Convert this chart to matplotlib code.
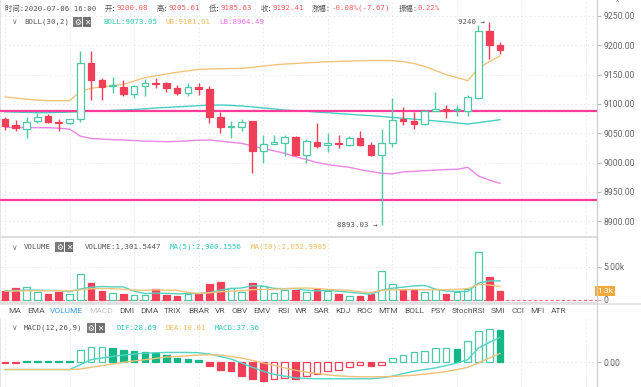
import matplotlib
matplotlib.use('Agg')
import matplotlib.pyplot as plt
from matplotlib.patches import Rectangle
from matplotlib.ticker import FuncFormatter
import numpy as np

# ---- data --------------------------------------------------------------
opens = [9074, 9064, 9058, 9071, 9079, 9069, 9067, 9074, 9170, 9140,
         9130, 9129, 9117, 9130, 9136, 9135, 9127, 9118, 9129, 9125,
         9077, 9060, 9061, 9070, 9020, 9032, 9034, 9044, 9013, 9035,
         9030, 9034, 9030, 9042, 9030, 9013, 9033, 9074, 9071, 9066,
         9088, 9091, 9089, 9088, 9110, 9225, 9200.08]
highs = [9077, 9072, 9077, 9084, 9083, 9074, 9075, 9190, 9191, 9144,
         9146, 9141, 9133, 9142, 9145, 9138, 9132, 9135, 9135, 9130,
         9087, 9071, 9075, 9071, 9047, 9047, 9047, 9045, 9040, 9068,
         9051, 9047, 9045, 9054, 9035, 9057, 9110, 9095, 9087, 9089,
         9121, 9098, 9098, 9115, 9234, 9240, 9205.61]
lows = [9055, 9054, 9041, 9067, 9068, 9053, 9065, 9069, 9107, 9107,
        9119, 9113, 9110, 9113, 9127, 9121, 9115, 9113, 9116, 9067,
        9051, 9041, 9053, 8982, 8999, 9031, 9011, 9012, 9000, 9024,
        9018, 9025, 9029, 9028, 9011, 8893.03, 9027, 9064, 9057, 9064,
        9088, 9076, 9079, 9079, 9108, 9176, 9185.63]
closes = [9062, 9059, 9069, 9078, 9069, 9067, 9074, 9170, 9140, 9129,
          9131, 9117, 9130, 9136, 9134, 9127, 9118, 9129, 9125, 9077,
          9060, 9062, 9069, 9020, 9032, 9035, 9043, 9013, 9037, 9029,
          9034, 9031, 9042, 9030, 9013, 9033, 9072, 9070, 9065, 9088,
          9091, 9088, 9090, 9111, 9225, 9200, 9192.41]

boll_mid = [9086.5, 9086, 9085.5, 9085, 9085, 9085.5, 9086, 9086.7, 9087.5, 9088,
            9089, 9089.6, 9090.5, 9091.5, 9093, 9094, 9095, 9096, 9097, 9098,
            9098, 9097.5, 9096.4, 9095, 9093, 9091.5, 9089.6, 9088.5, 9087.5, 9086,
            9085, 9083.5, 9082.3, 9081, 9080, 9078.5, 9077, 9075.5, 9074, 9072.5,
            9071, 9069.5, 9067.5, 9065.7, 9068, 9070.5, 9073.05]
boll_ub = [9112, 9110, 9108, 9106.5, 9105.5, 9105.5, 9105.5, 9121, 9126.6, 9129.4,
           9131, 9133.4, 9139, 9144.8, 9148, 9151, 9154, 9156.5, 9159, 9159.5,
           9160, 9160.3, 9160.7, 9162.5, 9164.5, 9166.5, 9168, 9169, 9170, 9171,
           9172, 9172.5, 9173, 9173.5, 9174, 9174, 9174, 9172, 9169, 9164,
           9157, 9150, 9145, 9139.6, 9160.7, 9172, 9181.61]
boll_lb = [9060, 9060, 9059.5, 9059.5, 9059.4, 9058.5, 9057, 9045, 9041, 9040,
           9039, 9038.4, 9037.5, 9036.5, 9036, 9035.5, 9036, 9037, 9038, 9038.4,
           9036.5, 9034.5, 9032.7, 9028, 9024, 9020, 9015.7, 9010, 9005, 9000,
           8996.5, 8994, 8991.8, 8988, 8984.5, 8981.6, 8980.6, 8984, 8985, 8986,
           8987, 8988, 8988.4, 8991.8, 8977, 8970, 8964.49]
levels = [9088.4, 8936]

volumes = [1330, 1800, 1900, 1280, 920, 1280, 920, 4000, 2600, 1380,
           1030, 920, 770, 770, 1700, 820, 620, 870, 920, 2400,
           2700, 1800, 1280, 2600, 2100, 1030, 1540, 1440, 1250, 1650,
           1400, 900, 650, 550, 850, 4450, 2400, 1500, 1500, 1150,
           1700, 900, 1150, 1650, 7300, 3450, 1301.5]
vol_ma5 = [1400, 1450, 1500, 1500, 1450, 1450, 1250, 1680, 1940, 2040,
           1990, 1990, 1340, 970, 1040, 1000, 940, 960, 990, 1130,
           1500, 1740, 1820, 2160, 2100, 1760, 1710, 1740, 1470, 1380,
           1460, 1330, 1170, 1030, 870, 1480, 1780, 1950, 2140, 2200,
           1650, 1350, 1280, 1310, 2540, 2890, 2900]
vol_ma10 = [1350, 1350, 1400, 1400, 1400, 1400, 1380, 1550, 1700, 1740,
            1710, 1620, 1510, 1460, 1540, 1490, 1460, 1150, 980, 1080,
            1250, 1340, 1390, 1570, 1610, 1630, 1720, 1780, 1810, 1740,
            1610, 1520, 1460, 1250, 1130, 1470, 1550, 1560, 1590, 1540,
            1570, 1570, 1620, 1730, 2370, 2270, 2053]

macd_hist = [-1.5, -1.5, 1.5, 1.5, 1.5, 1.5, 1.5, 14.2, 17.3, 17.8,
             16.2, 13.5, 12.3, 11.5, 10.4, 8.5, 4.6, 3.5, 2.7, -5.0,
             -8.8, -10.8, -15.8, -20.4, -22.3, -19.6, -18.5, -20.4, -15.8, -13.5,
             -10.8, -9.6, -5.5, -4.0, -5.0, -3.5, 4.6, 8.5, 11.2, 13.1,
             16.2, 16.5, 15.5, 24.0, 36.5, 38.0, 37.36]
dif = [-8.8, -8.8, -8.8, -8.8, -8.8, -8.8, -8.8, -3.1, 2.7, 4.6,
       6.5, 8.1, 9.2, 10.4, 10.8, 11.2, 11.2, 11.2, 10.8, 9.2,
       6.5, 3.5, -1.2, -6.2, -10.8, -14.6, -16.5, -18.5, -19.2, -19.6,
       -19.6, -19.6, -19.6, -19.6, -19.6, -18.5, -16.5, -13.5, -10.8, -8.8,
       -6.9, -4.2, -1.2, 2.7, 16.2, 22.7, 28.69]
dea = [-8.8, -8.8, -8.8, -8.8, -8.8, -8.8, -8.8, -8.1, -6.2, -4.2,
       -2.3, -0.4, 1.2, 2.7, 4.2, 5.8, 6.5, 7.3, 8.1, 8.5,
       8.1, 6.5, 4.6, 1.9, -1.2, -3.8, -6.9, -9.6, -11.9, -13.5,
       -15.0, -16.2, -16.9, -17.3, -17.3, -17.3, -16.9, -16.2, -15.4, -14.2,
       -12.7, -11.2, -8.8, -6.2, -1.2, 4.6, 10.01]

tabs = ['MA', 'EMA', 'VOLUME', 'MACD', 'DMI', 'DMA', 'TRIX', 'BRAR', 'VR', 'OBV',
        'EMV', 'RSI', 'WR', 'SAR', 'KDJ', 'ROC', 'MTM', 'BOLL', 'PSY', 'StochRSI',
        'SMI', 'CCI', 'MFI', 'ATR']

# ---- style -------------------------------------------------------------
RED = '#f23f58'
GREEN = '#4ccaa3'
GREEN_FILL = '#13b685'
PINK_LINE = '#ff3d99'
C_MID, C_UB, C_LB = '#45cfc4', '#f2c47c', '#ec86e6'
TXT = '#555555'
VAL_RED = '#f45c5c'
MONO = ['DejaVu Sans Mono', 'Noto Sans CJK SC']
SANS = ['Roboto', 'DejaVu Sans']
GRID = dict(color='#e6e6e6', ls=(0, (2, 3)), lw=0.6)

W, H = 641, 387
fig = plt.figure(figsize=(W / 100, H / 100), dpi=100)
fig.patch.set_facecolor('white')


def px_axes(x0, y0, x1, y1):
    return fig.add_axes([x0 / W, 1 - y1 / H, (x1 - x0) / W, (y1 - y0) / H])


idx = np.arange(len(closes))
XLIM = (-5 / 10.76, 592 / 10.76)


def base_style(a):
    a.set_xlim(*XLIM)
    a.yaxis.tick_right()
    a.set_xticks(np.arange(0, 55, 6))
    a.tick_params(axis='x', length=0, labelbottom=False)
    a.tick_params(axis='y', length=3, color='#bbbbbb', labelsize=6.2,
                  labelcolor='#666666', pad=1.5)
    a.grid(True, **GRID)
    a.set_axisbelow(True)
    a.spines['top'].set_visible(False)
    a.spines['left'].set_color('#e4e4e4')
    a.spines['right'].set_color('#cfcfcf')
    a.spines['bottom'].set_color('#dddddd')
    a.spines['bottom'].set_linewidth(1.5)


# ---- price panel -------------------------------------------------------
ax = px_axes(0, 0, 597, 237)
base_style(ax)
ax.set_ylim(8872.9, 9277.3)
ax.set_yticks(np.arange(8900, 9251, 50))
ax.yaxis.set_major_formatter(FuncFormatter(lambda v, p: f'{v:.2f}'))
for lab in ax.get_yticklabels():
    lab.set_family(SANS)

ax.plot(idx, boll_ub, color=C_UB, lw=1.0, zorder=2)
ax.plot(idx, boll_mid, color=C_MID, lw=1.0, zorder=2)
ax.plot(idx, boll_lb, color=C_LB, lw=1.0, zorder=2)
for lv in levels:
    ax.axhline(lv, color=PINK_LINE, lw=1.6, zorder=4)

for i in idx:
    up = closes[i] >= opens[i]
    col = GREEN if up else RED
    ax.vlines(i, lows[i], highs[i], color=col, lw=1.0, zorder=5)
    lo, hi = sorted((opens[i], closes[i]))
    ax.add_patch(Rectangle((i - 0.31, lo), 0.62, max(hi - lo, 1.6),
                           facecolor='white' if up else col, edgecolor=col,
                           lw=0.9, zorder=6))

imax = int(np.argmax(highs))
imin = int(np.argmin(lows))
ax.text(imax - 0.4, highs[imax], f'{highs[imax]:.0f} \u2192', ha='right', va='center',
        fontsize=5.3, family=MONO, color=TXT, zorder=7)
ax.text(imin - 0.4, lows[imin], f'{lows[imin]:.2f} \u2192', ha='right', va='center',
        fontsize=5.3, family=MONO, color=TXT, zorder=7)

# ---- volume panel ------------------------------------------------------
axv = px_axes(0, 238, 597, 303)
base_style(axv)
axv.set_ylim(-455, 9394)
axv.set_yticks([0, 5000])
axv.set_yticklabels(['0', '5.00k'], family=SANS)
vcols = [GREEN if c >= o else RED for o, c in zip(opens, closes)]
vface = ['white' if c >= o else RED for o, c in zip(opens, closes)]
axv.bar(idx, volumes, width=0.62, color=vface, edgecolor=vcols, lw=0.9, zorder=3)
axv.plot(idx, vol_ma5, color='#52d3c1', lw=1.0, zorder=4)
axv.plot(idx, vol_ma10, color='#f2c27c', lw=1.0, zorder=4)
axv.axhline(0, color='#f26d7d', lw=0.8, ls=(0, (3, 2)), zorder=2)
axv.text(1.0, volumes[-1], f'{volumes[-1] / 1000:.1f}k', transform=axv.get_yaxis_transform(),
         ha='left', va='center', fontsize=6, family=SANS, color='white', zorder=8,
         bbox=dict(boxstyle='square,pad=0.25', fc='#f6a93b', ec='none'), clip_on=False)

# ---- MACD panel --------------------------------------------------------
axm = px_axes(0, 318, 597, 387)
base_style(axm)
axm.spines['bottom'].set_visible(False)
axm.set_ylim(-29.2, 51.4)
axm.set_yticks([0])
axm.set_yticklabels(['0.00'], family=SANS)
prev = 0.0
for i, v in enumerate(macd_hist):
    col = GREEN_FILL if v >= 0 else RED
    grow = abs(v) > abs(prev) and i > 0
    hollow = grow if v >= 0 else not grow
    if abs(v) < 2:
        hollow = False
    axm.bar(i, v, width=0.62, color='white' if hollow else col,
            edgecolor=col if v < 0 else (GREEN if hollow else col), lw=0.9, zorder=3)
    prev = v
axm.plot(idx, dif, color='#4fd6c6', lw=1.0, zorder=4)
axm.plot(idx, dea, color='#f0c078', lw=1.0, zorder=4)

# ---- texts -------------------------------------------------------------
renderer = fig.canvas.get_renderer()


def row(x, y, pieces, size=5.3, family=MONO, gap=0.0):
    for item in pieces:
        if item is None:
            x += 8.5
            continue
        s, c = item[0], item[1]
        box = item[2] if len(item) > 2 else None
        kw = {}
        if box:
            kw['bbox'] = dict(boxstyle='square,pad=0.12', fc=box, ec='none')
        t = fig.text(x / W, 1 - y / H, s, color=c, fontsize=size, family=family,
                     ha='left', va='center', **kw)
        x += t.get_window_extent(renderer=renderer).width + gap
        if box:
            x += 3
    return x


row(5, 8, [('时间:2020-07-06 16:00', TXT), None,
           ('开:', TXT), ('9200.08', VAL_RED), None,
           ('高:', TXT), ('9205.61', VAL_RED), None,
           ('低:', TXT), ('9185.63', VAL_RED), None,
           ('收:', TXT), ('9192.41', VAL_RED), None,
           ('涨幅:', TXT), ('-0.08%(-7.67)', VAL_RED), None,
           ('振幅:', TXT), ('0.22%', VAL_RED)])

ICON = ['DejaVu Sans']


def legend(y, name, pieces):
    fig.text(11 / W, 1 - y / H, '\u2228', fontsize=5.5, color='#777777',
             family=ICON, ha='left', va='center')
    x = row(24, y, [(name, TXT)])
    x += 5
    x = row(x, y, [('\u2699', 'white', '#7a7a7a')], size=5.5, family=ICON)
    x = row(x, y, [('\u2715', 'white', '#6f6f6f')], size=5.5, family=ICON)
    x += 10
    row(x, y, pieces)


legend(22, 'BOLL(30,2)', [('BOLL:9073.05', '#2ec9b5'), None,
                          ('UB:9181.61', '#f0b95a'), None,
                          ('LB:8964.49', '#f06ee8')])
legend(247, 'VOLUME', [('VOLUME:1,301.5447', TXT), None,
                       ('MA(5):2,900.1556', '#2ec9b5'), None,
                       ('MA(10):2,052.9905', '#f0b95a')])
legend(328, 'MACD(12,26,9)', [('DIF:28.69', '#2ec9b5'), None,
                              ('DEA:10.01', '#f0b95a'), None,
                              ('MACD:37.36', '#2ec9b5')])

tab_colors = {'VOLUME': '#3a9cf2', 'MACD': '#c4c4c4'}
x = 8
for name in tabs:
    t = fig.text(x / W, 1 - 311 / H, name, fontsize=6.0, family=SANS,
                 color=tab_colors.get(name, TXT), ha='left', va='center')
    x += t.get_window_extent(renderer=renderer).width + 5.9

# separator lines of the panes
fig.add_artist(plt.Line2D([0, 1], [1 - 303.5 / H] * 2, color='#e2e2e2', lw=1.2))
fig.add_artist(plt.Line2D([597 / W, 597 / W], [0, 1], color='#cfcfcf', lw=0.8))
fig.text(617 / W, 1 - 4 / H, '^', fontsize=5, color='#888888', family=SANS,
         ha='center', va='center')

fig.savefig('out.png', dpi=100, facecolor='white')
